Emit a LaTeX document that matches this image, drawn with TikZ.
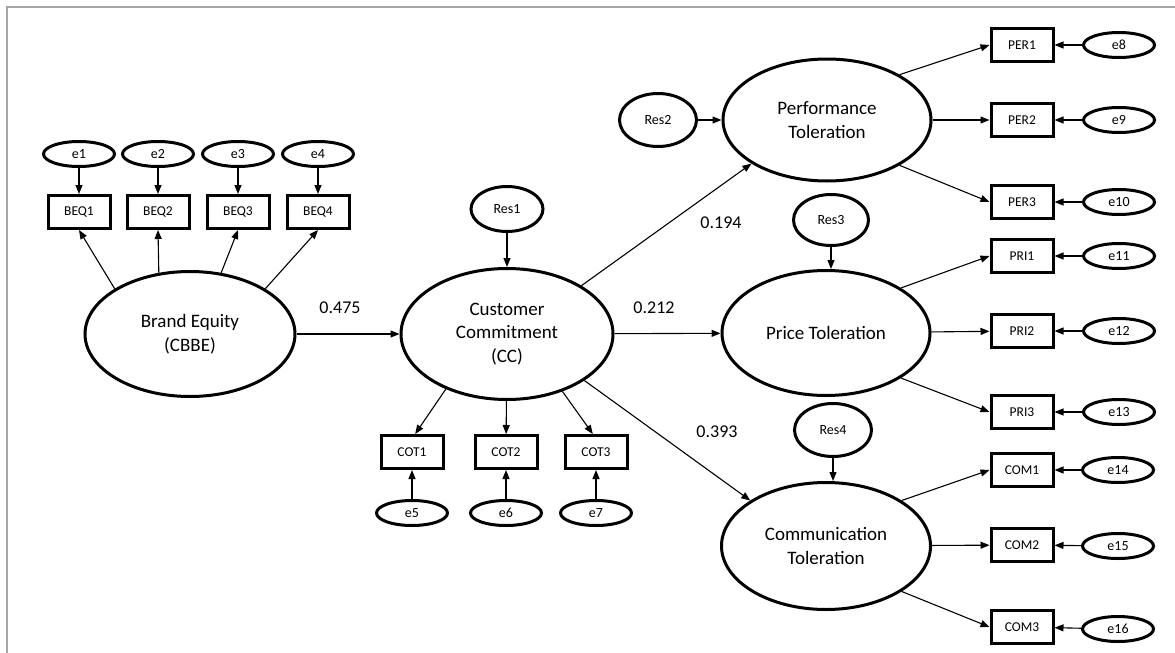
\documentclass[tikz,border=0pt]{standalone}
\usepackage{fontspec}
\setmainfont{Carlito}
\usepackage{tikz}
\usetikzlibrary{arrows.meta,shapes.geometric}

\tikzset{
  latente/.style={ellipse,draw,line width=3pt,inner sep=0pt,align=center,
    font=\fontsize{19}{23.5}\selectfont},
  errorvar/.style={ellipse,draw,line width=3pt,minimum width=71pt,minimum height=25pt,
    inner sep=0pt,font=\fontsize{14}{17}\selectfont},
  residuo/.style={ellipse,draw,line width=3pt,inner sep=0pt,
    font=\fontsize{14}{17}\selectfont},
  indicador/.style={rectangle,draw,line width=3pt,minimum width=62pt,minimum height=33pt,
    inner sep=0pt,font=\fontsize{13.5}{16}\selectfont},
  flecha/.style={-{Triangle[length=9pt,width=7pt]},line width=1.1pt},
  peso/.style={font=\fontsize{18}{21}\selectfont}
}

\begin{document}
\begin{tikzpicture}[x=1pt,y=-1pt]
            \useasboundingbox (0,0) rectangle (1175,653);
            % Marco gris (solo izquierda y arriba)
            \draw[gray!70, line width=1.5pt] (7,653) -- (7,7) -- (1175,7);

            % Variables latentes
            \node[latente, minimum width=210pt, minimum height=125pt] (be) at (190,334) {Brand Equity\\(CBBE)};
            \node[latente, minimum width=212pt, minimum height=131pt] (cc) at (507,334) {Customer\\Commitment\\(CC)};
            \node[latente, minimum width=208pt, minimum height=122pt] (pt) at (827,120) {Performance\\Toleration};
            \node[latente, minimum width=208pt, minimum height=125pt] (prt) at (826,333) {Price Toleration};
            \node[latente, minimum width=209pt, minimum height=127pt] (cmt) at (826,546) {Communication\\Toleration};

            % Residuos
            \node[residuo, minimum width=72pt, minimum height=45pt] (res1) at (507,209) {Res1};
            \node[residuo, minimum width=77pt, minimum height=53pt] (res2) at (658,120) {Res2};
            \node[residuo, minimum width=75pt, minimum height=51pt] (res3) at (831,220) {Res3};
            \node[residuo, minimum width=77pt, minimum height=53pt] (res4) at (833,430) {Res4};

            % Indicadores de Brand Equity
            \node[indicador] (beq1) at (79,212) {BEQ1};
            \node[indicador] (beq2) at (158,212) {BEQ2};
            \node[indicador] (beq3) at (238,212) {BEQ3};
            \node[indicador] (beq4) at (318,212) {BEQ4};
            \node[errorvar] (e1) at (79,154) {e1};
            \node[errorvar] (e2) at (158,154) {e2};
            \node[errorvar] (e3) at (238,154) {e3};
            \node[errorvar] (e4) at (318,154) {e4};

            % Indicadores de Customer Commitment
            \node[indicador] (cot1) at (412,452) {COT1};
            \node[indicador] (cot2) at (506,452) {COT2};
            \node[indicador] (cot3) at (596,452) {COT3};
            \node[errorvar] (e5) at (412,513) {e5};
            \node[errorvar] (e6) at (506,513) {e6};
            \node[errorvar] (e7) at (596,513) {e7};

            % Indicadores de las tolerancias
            \node[indicador] (per1) at (1022,45) {PER1};
            \node[indicador] (per2) at (1022,120) {PER2};
            \node[indicador] (per3) at (1022,202) {PER3};
            \node[indicador] (pri1) at (1022,256) {PRI1};
            \node[indicador] (pri2) at (1022,331) {PRI2};
            \node[indicador] (pri3) at (1022,412) {PRI3};
            \node[indicador] (com1) at (1022,470) {COM1};
            \node[indicador] (com2) at (1022,545) {COM2};
            \node[indicador] (com3) at (1022,627) {COM3};
            \node[errorvar] (e8) at (1119,45) {e8};
            \node[errorvar] (e9) at (1119,120) {e9};
            \node[errorvar] (e10) at (1119,202) {e10};
            \node[errorvar] (e11) at (1119,256) {e11};
            \node[errorvar] (e12) at (1119,331) {e12};
            \node[errorvar] (e13) at (1119,412) {e13};
            \node[errorvar] (e14) at (1118,470) {e14};
            \node[errorvar] (e15) at (1118,546) {e15};
            \node[errorvar] (e16) at (1118,629) {e16};

            % Coeficientes
            \node[peso] (w1) at (340,308) {0.475};
            \node[peso] (w2) at (721,223) {0.194};
            \node[peso] (w3) at (654,308) {0.212};
            \node[peso] (w4) at (717,432) {0.393};

            % Flechas de Brand Equity
            \draw[flecha] (e1) -- (beq1);
            \draw[flecha] (e2) -- (beq2);
            \draw[flecha] (e3) -- (beq3);
            \draw[flecha] (e4) -- (beq4);
            \draw[flecha] (be.149) -- (beq1.south);
            \draw[flecha] (be.117) -- (beq2.south);
            \draw[flecha] (be.63) -- (beq3.south);
            \draw[flecha] (be.31) -- (beq4.south);
            \draw[flecha] (be) -- (cc);

            % Flechas de Customer Commitment
            \draw[flecha] (res1) -- (cc);
            \draw[flecha] (cc.222) -- (cot1.80);
            \draw[flecha] (cc) -- (cot2);
            \draw[flecha] (cc.314) -- (cot3.100);
            \draw[flecha] (e5) -- (cot1);
            \draw[flecha] (e6) -- (cot2);
            \draw[flecha] (e7) -- (cot3);
            \draw[flecha] (cc.33) -- (pt.210);
            \draw[flecha] (cc) -- (prt);
            \draw[flecha] (cc.-31) -- (cmt.149.5);

            % Flechas de Performance Toleration
            \draw[flecha] (res2) -- (pt);
            \draw[flecha] (pt.32) -- (per1.west);
            \draw[flecha] (pt) -- (per2);
            \draw[flecha] (pt.-32) -- (per3.west);
            \draw[flecha] (e8) -- (per1);
            \draw[flecha] (e9) -- (per2);
            \draw[flecha] (e10) -- (per3);

            % Flechas de Price Toleration
            \draw[flecha] (res3) -- (res3 |- prt.north);
            \draw[flecha] (prt.31) -- (pri1.west);
            \draw[flecha] (prt) -- (pri2);
            \draw[flecha] (prt.-31) -- (pri3.west);
            \draw[flecha] (e11) -- (pri1);
            \draw[flecha] (e12) -- (pri2);
            \draw[flecha] (e13) -- (pri3);

            % Flechas de Communication Toleration
            \draw[flecha] (res4) -- (res4 |- cmt.north);
            \draw[flecha] (cmt.31) -- (com1.west);
            \draw[flecha] (cmt) -- (com2);
            \draw[flecha] (cmt.-31) -- (com3.west);
            \draw[flecha] (e14) -- (com1);
            \draw[flecha] (e15) -- (com2);
            \draw[flecha] (e16) -- (com3);
        \end{tikzpicture}
\end{document}
